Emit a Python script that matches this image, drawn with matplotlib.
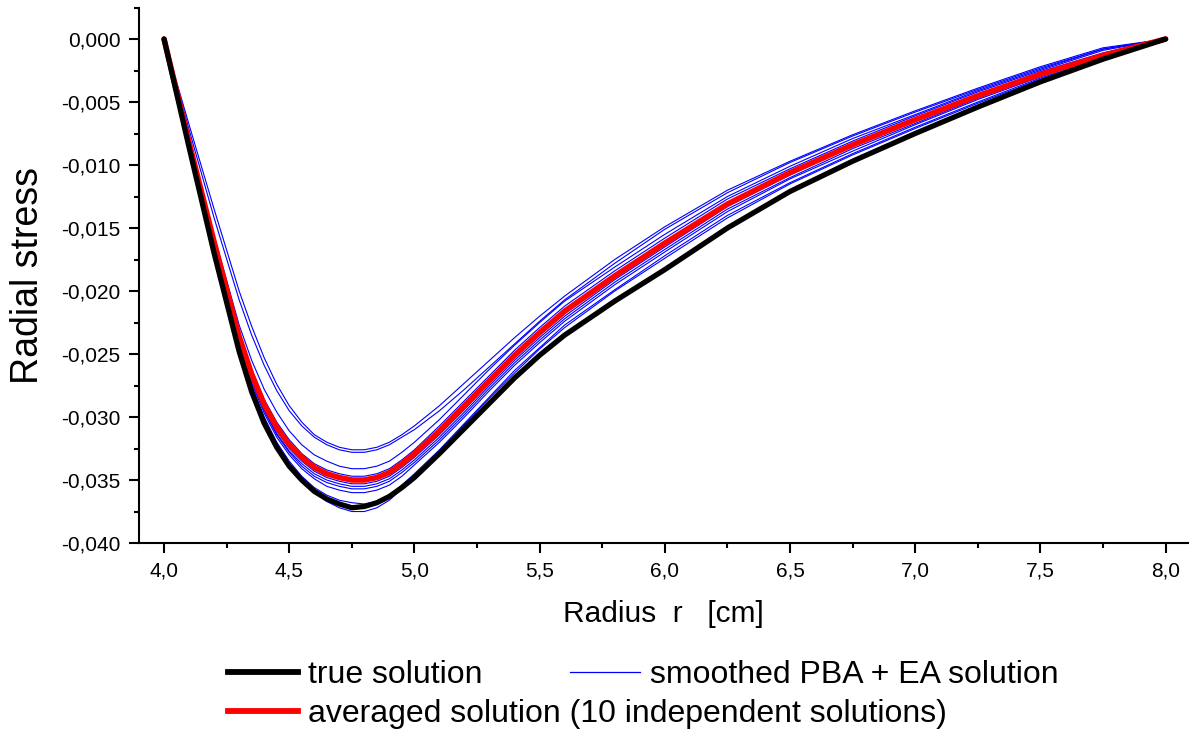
import matplotlib
matplotlib.use("Agg")
import matplotlib.pyplot as plt
from matplotlib.ticker import MultipleLocator, FuncFormatter
from matplotlib.lines import Line2D

plt.rcParams["font.family"] = ["Liberation Sans", "DejaVu Sans"]

# radius grid [cm]
radius = [4.0, 4.1, 4.2, 4.3, 4.35, 4.4, 4.45, 4.5, 4.55, 4.6, 4.65, 4.7, 4.75, 4.8, 4.85,
          4.9, 4.95, 5.0, 5.1, 5.2, 5.3, 5.4, 5.5, 5.6, 5.8, 6.0, 6.25, 6.5, 6.75, 7.0,
          7.25, 7.5, 7.75, 8.0]

# radial stress (units of 1e-4)
true_solution = [0, -86, -170, -248, -280, -305, -324, -339, -350, -359, -365, -369, -372, -371,
                 -368, -363, -356, -348, -329, -309, -289, -269, -251, -235, -208, -183, -150,
                 -121, -97, -75, -54, -34, -16, 0]
averaged = [0, -82, -161, -236, -266, -290, -308, -322, -332, -340, -345, -348, -350, -350,
            -348, -344, -337, -329, -311, -291, -271, -251, -233, -216, -188, -162, -131,
            -106, -84, -64, -45, -28, -13, 0]
smoothed_runs = [
    [0, -68, -135, -200, -228, -253, -274, -291, -304, -314, -320, -324, -326, -326, -324,
     -320, -314, -307, -291, -273, -255, -237, -220, -204, -175, -149, -120, -97, -76, -57,
     -39, -22, -7, 0],
    [0, -72, -142, -207, -235, -259, -279, -295, -307, -316, -322, -326, -328, -328, -326,
     -322, -316, -310, -295, -278, -260, -242, -224, -207, -178, -151, -122, -98, -77, -58,
     -40, -23, -8, 0],
    [0, -80, -156, -227, -255, -278, -296, -311, -322, -330, -335, -339, -341, -341, -339,
     -335, -328, -320, -302, -282, -262, -243, -225, -208, -181, -155, -125, -101, -79, -60,
     -41, -24, -8, 0],
    [0, -81, -159, -233, -262, -286, -304, -318, -329, -337, -342, -345, -347, -347, -345,
     -341, -334, -326, -307, -287, -267, -247, -229, -212, -184, -158, -127, -103, -81, -61,
     -42, -25, -9, 0],
    [0, -82, -162, -238, -269, -293, -311, -325, -335, -343, -348, -351, -353, -353, -351,
     -347, -340, -332, -314, -294, -273, -253, -235, -218, -189, -163, -131, -106, -83, -63,
     -44, -26, -11, 0],
    [0, -82, -163, -239, -270, -294, -313, -327, -337, -345, -350, -353, -355, -355, -353,
     -349, -342, -334, -316, -296, -275, -255, -237, -220, -191, -165, -133, -108, -85, -65,
     -45, -28, -12, 0],
    [0, -83, -163, -240, -271, -295, -314, -328, -339, -347, -352, -355, -357, -357, -355,
     -351, -344, -336, -318, -298, -277, -257, -239, -222, -193, -167, -135, -110, -87, -67,
     -47, -29, -13, 0],
    [0, -83, -164, -241, -273, -297, -316, -330, -341, -349, -355, -358, -360, -360, -358,
     -354, -347, -338, -320, -300, -279, -259, -241, -224, -195, -169, -137, -111, -89, -68,
     -48, -30, -14, 0],
    [0, -84, -165, -243, -275, -300, -320, -335, -347, -356, -362, -366, -368, -369, -367,
     -362, -354, -345, -326, -305, -284, -263, -245, -227, -199, -172, -140, -114, -91, -70,
     -50, -31, -15, 0],
    [0, -85, -167, -245, -277, -302, -322, -338, -350, -360, -367, -372, -375, -375, -372,
     -366, -357, -347, -327, -306, -285, -265, -246, -229, -200, -174, -142, -115, -92, -71,
     -51, -32, -15, 0],
]
SCALE = 1e-4


def scaled(values):
    return [v * SCALE for v in values]


fig = plt.figure(figsize=(11.9, 7.29), dpi=100)
ax = fig.add_axes([0.1168, 0.2551, 0.8812, 0.7346])

for run in smoothed_runs:
    ax.plot(radius, scaled(run), color="#0000ff", lw=0.8, solid_joinstyle="round")
ax.plot(radius, scaled(averaged), color="#ff0000", lw=4.0, solid_joinstyle="round",
        solid_capstyle="round")
ax.plot(radius, scaled(true_solution), color="black", lw=3.8, solid_joinstyle="round",
        solid_capstyle="round")

ax.set_xlim(3.9, 8.088)
ax.set_ylim(-0.040, 0.0025)

ax.xaxis.set_major_locator(MultipleLocator(0.5))
ax.xaxis.set_minor_locator(MultipleLocator(0.25))
ax.yaxis.set_major_locator(MultipleLocator(0.005))
ax.yaxis.set_minor_locator(MultipleLocator(0.0025))
ax.xaxis.set_major_formatter(FuncFormatter(lambda v, p: f"{v:.1f}".replace(".", ",")))
ax.yaxis.set_major_formatter(
    FuncFormatter(lambda v, p: f"{0.0 if abs(v) < 1e-9 else v:.3f}".replace(".", ",")))

for side in ("top", "right"):
    ax.spines[side].set_visible(False)
for side in ("left", "bottom"):
    ax.spines[side].set_linewidth(1.5)
ax.tick_params(which="major", direction="out", length=7.2, width=1.5, labelsize=15, pad=6)
ax.tick_params(which="minor", direction="out", length=3.6, width=1.5)

ax.set_xlabel("Radius  r   [cm]", fontsize=21.5, labelpad=14)
ax.set_ylabel("Radial stress", fontsize=27, labelpad=11)

h_true = Line2D([], [], color="black", lw=4.2)
h_avg = Line2D([], [], color="#ff0000", lw=4.2)
h_blue = Line2D([], [], color="#0000ff", lw=0.9)
fig.legend([h_true, h_avg], ["true solution", "averaged solution (10 independent solutions)"],
           loc="upper left", bbox_to_anchor=(0.1916, 0.094),
           frameon=False, fontsize=23, handlelength=2.2, handletextpad=0.3,
           labelspacing=0.28, borderaxespad=0, borderpad=0)
fig.legend([h_blue], ["smoothed PBA + EA solution"],
           loc="upper left", bbox_to_anchor=(0.479, 0.094),
           frameon=False, fontsize=23, handlelength=2.2, handletextpad=0.3,
           borderaxespad=0, borderpad=0)

fig.savefig("out.png", dpi=100)
